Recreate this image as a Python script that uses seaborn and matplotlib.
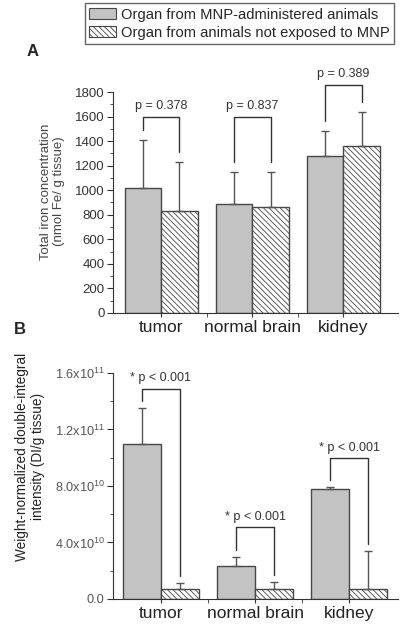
import numpy as np
import pandas as pd
import matplotlib
matplotlib.use("Agg")
import matplotlib.pyplot as plt
from matplotlib.patches import Patch
from matplotlib.ticker import MultipleLocator, FixedLocator
import seaborn as sns

organs = ["tumor", "normal brain", "kidney"]
groups = ["Organ from MNP-administered animals", "Organ from animals not exposed to MNP"]

# panel A - total iron (nmol Fe / g tissue), mean and SD
iron_mnp = [1020, 890, 1280]
iron_mnp_sd = [390, 260, 200]
iron_ctrl = [830, 860, 1360]
iron_ctrl_sd = [400, 290, 280]
iron_p = ["p = 0.378", "p = 0.837", "p = 0.389"]
iron_bracket = [1600, 1600, 1860]
iron_ticks = [0, 200, 400, 600, 800, 1000, 1200, 1400, 1600, 1800]

# panel B - weight-normalized double integral (DI / g tissue)
di_mnp = [1.10e11, 2.35e10, 7.8e10]
di_mnp_sd = [2.5e10, 6.2e9, 1.3e9]
di_ctrl = [7e9, 7e9, 7e9]
di_ctrl_sd = [4.3e9, 5e9, 2.7e10]
di_p = ["* p < 0.001", "* p < 0.001", "* p < 0.001"]
di_bracket = [1.49e11, 5.1e10, 1.0e11]
di_ticks = [0, 4e10, 8e10, 1.2e11, 1.6e11]
di_tick_labels = ["0.0", "4.0x10$^{10}$", "8.0x10$^{10}$", "1.2x10$^{11}$", "1.6x10$^{11}$"]

GRAY = "#c3c3c3"
EDGE = "#474747"
LINE = "#555555"
HATCH = "\\" * 6

sns.set_style("ticks")
plt.rcParams["font.family"] = ["Liberation Sans", "DejaVu Sans"]
plt.rcParams["mathtext.default"] = "regular"
plt.rcParams["hatch.color"] = EDGE
plt.rcParams["hatch.linewidth"] = 0.6


def draw_panel(ax, mnp, mnp_sd, ctrl, ctrl_sd, pvals, brackets, gap):
    df = pd.DataFrame({
        "organ": organs * 2,
        "group": [groups[0]] * 3 + [groups[1]] * 3,
        "value": mnp + ctrl,
    })
    sns.barplot(data=df, x="organ", y="value", hue="group", palette=[GRAY, "white"],
                errorbar=None, width=0.8, saturation=1, edgecolor=EDGE, linewidth=1,
                legend=False, ax=ax)
    for bar in ax.containers[1]:
        bar.set_hatch(HATCH)

    # upper error bars only
    centers = []
    for cont, vals, sds in zip(ax.containers[:2], [mnp, ctrl], [mnp_sd, ctrl_sd]):
        xs = [b.get_x() + b.get_width() / 2 for b in cont]
        centers.append(xs)
        ax.errorbar(xs, vals, yerr=[np.zeros(len(vals)), sds], fmt="none",
                    ecolor=LINE, elinewidth=1, capsize=3, capthick=1)

    # significance brackets
    for i in range(len(organs)):
        xl, xr = centers[0][i], centers[1][i]
        yl = mnp[i] + mnp_sd[i] + gap
        yr = ctrl[i] + ctrl_sd[i] + gap
        top = brackets[i]
        ax.plot([xl, xl, xr, xr], [yl, top, top, yr], color="#333333", lw=1, clip_on=False)
        ax.annotate(pvals[i], ((xl + xr) / 2, top), xytext=(0, 3), textcoords="offset points",
                    ha="center", va="bottom", fontsize=9, color="#333333",
                    annotation_clip=False)

    sns.despine(ax=ax)
    for s in ["left", "bottom"]:
        ax.spines[s].set_color("#333333")
        ax.spines[s].set_linewidth(0.8)
    ax.set_xlabel("")
    ax.xaxis.set_minor_locator(FixedLocator([0.5, 1.5]))
    ax.tick_params(axis="x", which="both", length=3, color="#333333", labelsize=12.5,
                   labelcolor="#222222", pad=2)
    ax.tick_params(axis="y", which="major", length=4, color="#333333", labelsize=9.5,
                   labelcolor="#333333", pad=2)
    ax.tick_params(axis="y", which="minor", length=2, color="#333333")


fig = plt.figure(figsize=(4, 6.28), dpi=100)

axA = fig.add_axes([0.2825, 0.5016, 0.7125, 0.3519])
draw_panel(axA, iron_mnp, iron_mnp_sd, iron_ctrl, iron_ctrl_sd, iron_p, iron_bracket, 80)
axA.set_xlim(-0.53, 2.6)
axA.set_ylim(0, 1800)
axA.set_yticks(iron_ticks)
axA.yaxis.set_minor_locator(MultipleLocator(100))
axA.set_ylabel("Total iron concentration\n(nmol Fe/ g tissue)", fontsize=9.5, color="#444444",
               linespacing=1.1)
axA.yaxis.set_label_coords(-0.17, 0.55)

axB = fig.add_axes([0.2825, 0.0462, 0.7125, 0.3599])
draw_panel(axB, di_mnp, di_mnp_sd, di_ctrl, di_ctrl_sd, di_p, di_bracket, 5e9)
axB.set_xlim(-0.51, 2.52)
axB.set_ylim(0, 1.6e11)
axB.set_yticks(di_ticks)
axB.set_yticklabels(di_tick_labels)
axB.yaxis.set_minor_locator(MultipleLocator(2e10))
axB.tick_params(axis="y", labelsize=9.2, labelcolor="#555555")
axB.set_ylabel("Weight-normalized double-integral\nintensity (DI/g tissue)", fontsize=9.8,
               color="#222222", linespacing=1.1)
axB.yaxis.set_label_coords(-0.24, 0.63)

handles = [Patch(facecolor=GRAY, edgecolor=EDGE, linewidth=0.8),
           Patch(facecolor="white", edgecolor=EDGE, linewidth=0.8, hatch=HATCH)]
fig.legend(handles, groups, loc="upper right", bbox_to_anchor=(0.985, 0.995), fontsize=10.6,
           frameon=True, fancybox=False, edgecolor="#666666", framealpha=1,
           handlelength=1.8, handleheight=0.8, handletextpad=0.35, labelspacing=0.3,
           borderpad=0.3, borderaxespad=0)

fig.text(33 / 400, 1 - 51 / 628, "A", fontsize=12, fontweight="bold", ha="center", va="center")
fig.text(20 / 400, 1 - 330 / 628, "B", fontsize=12, fontweight="bold", ha="center", va="center")

fig.savefig("out.png", dpi=100)
